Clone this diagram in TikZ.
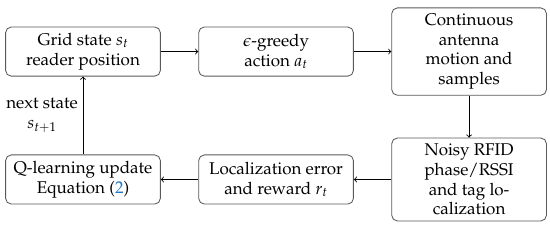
\documentclass[tikz,border=0pt]{standalone}
\usepackage[T1]{fontenc}
\usepackage{mathpazo}
\renewcommand{\rmdefault}{ppl}
\usepackage{tikz}
\usetikzlibrary{positioning}
\definecolor{eqblue}{RGB}{30,120,200}

\begin{document}
\begin{tikzpicture}[
        node distance=1.04cm and 0.93cm,
        blockbox/.style={draw=black!65, rectangle, rounded corners=4pt, align=center,
            minimum height=1.22cm, minimum width=3.84cm, inner ysep=4pt, font=\large},
        every path/.style={semithick}
    ]
        \useasboundingbox (0,0) rectangle (13.65,5.71);

        \node[blockbox] (grid) at (2.06,4.43) {Grid state $s_t$\\reader position};
        \node[blockbox] (greedy) [right=of grid] {$\epsilon$-greedy\\action $a_t$};
        \node[blockbox] (motion) [right=of greedy] {Continuous\\antenna\\motion and\\samples};
        \node[blockbox] (noisy) [below=of motion] {Noisy RFID\\phase/RSSI\\and tag lo-\\calization};
        \node[blockbox] (locerr) [left=of noisy] {Localization error\\and reward $r_t$};
        \node[blockbox] (qlearn) [left=of locerr] {Q-learning update\\Equation (\textcolor{eqblue}{2})};

        \draw[->] (grid) -- (greedy);
        \draw[->] (greedy) -- (motion);
        \draw[->] (motion) -- (noisy);
        \draw[->] (noisy) -- (locerr);
        \draw[->] (locerr) -- (qlearn);
        \draw[->] (qlearn) -- node[left, align=center, font=\large] {next state\\$s_{t+1}$} (grid);
    \end{tikzpicture}
\end{document}
